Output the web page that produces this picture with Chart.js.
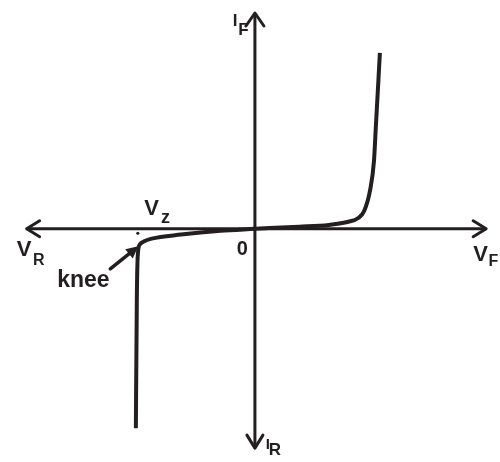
<!DOCTYPE html>
<html>
<head>
<meta charset="utf-8">
<script src="https://cdn.jsdelivr.net/npm/chart.js@4/dist/chart.umd.min.js"></script>
<style>
html,body{margin:0;padding:0;background:#ffffff;}
#wrap{width:500px;height:462px;}
</style>
</head>
<body>
<div id="wrap"><canvas id="c" width="500" height="462"></canvas></div>
<script>
// Forward-bias branch (V_F in volts, I_F in mA)
const forwardV = [0, 1.8, 3.0, 3.8, 4.2, 4.44, 4.68, 4.84, 4.92, 5.0, 5.08];
const forwardI = [0, 0.09, 0.17, 0.31, 0.48, 0.79, 1.71, 3.02, 4.63, 6.21, 7.83];
// Reverse-bias branch (breakdown at Vz)
const reverseV = [-4.84, -4.8, -4.76, -4.68, -4.52, -4.2, -3.0, -1.4, 0];
const reverseI = [-8.88, -3.1, -1.14, -0.7, -0.57, -0.44, -0.26, -0.09, 0];
// Zener voltage marker on the axis
const zenerV = [-4.76];
const zenerI = [-0.2];
// Axis extents (data units)
const axisX = [-9.28, 9.4];
const axisY = [-9.76, 9.6];
// Text labels
const labelTexts = ["I", "F", "I", "R", "V", "R", "V", "z", "0", "V", "F", "knee"];

const INK = '#231f20';
const pts = (xs, ys) => xs.map((x, i) => ({x, y: ys[i]}));

// label placement (data units) and fonts
const labelSpec = [
  {x: -0.9,  y: 9.0,  f: 'bold 17px "Liberation Sans"'},
  {x: -0.68, y: 8.6,  f: 'bold 17px "Liberation Sans"'},
  {x: 0.44,  y: -9.8, f: 'bold 15px "Liberation Sans"'},
  {x: 0.56,  y: -10.06, f: 'bold 17px "Liberation Sans"'},
  {x: -9.68, y: -1.22, f: 'bold 22px "Liberation Sans"'},
  {x: -9.02, y: -1.6,  f: 'bold 16px "Liberation Sans"'},
  {x: -4.5,  y: 0.61,  f: 'bold 22px "Liberation Sans"'},
  {x: -3.82, y: 0.26,  f: 'bold 18px "Liberation Sans"'},
  {x: -0.74, y: -1.18, f: 'bold 20px "Liberation Sans"'},
  {x: 8.88,  y: -1.44, f: 'bold 22px "Liberation Sans"'},
  {x: 9.5,   y: -1.66, f: 'bold 16px "Liberation Sans"'},
  {x: -8.04, y: -2.58, f: 'bold 23px "Liberation Sans"'}
];
// knee pointer arrow (tail -> head) in data units
const kneeArrow = {x0: -5.88, y0: -1.79, x1: -4.74, y1: -0.78};

function chevron(ctx, tx, ty, ang, len, half) {
  const c = Math.cos(ang), s = Math.sin(ang);
  ctx.beginPath();
  ctx.moveTo(tx - len * c - half * -s, ty - len * s - half * c);
  ctx.lineTo(tx, ty);
  ctx.lineTo(tx - len * c + half * -s, ty - len * s + half * c);
  ctx.stroke();
}

const decor = {
  id: 'decor',
  afterDatasetsDraw(chart) {
    const ctx = chart.ctx, xs = chart.scales.x, ys = chart.scales.y;
    const X = v => xs.getPixelForValue(v), Y = v => ys.getPixelForValue(v);
    ctx.save();
    ctx.strokeStyle = INK; ctx.fillStyle = INK;
    ctx.lineWidth = 3; ctx.lineCap = 'round'; ctx.lineJoin = 'round';
    // axis arrowheads
    chevron(ctx, X(axisX[1]), Y(0), 0, 13, 8);
    chevron(ctx, X(axisX[0]), Y(0), Math.PI, 13, 8);
    chevron(ctx, X(0), Y(axisY[1]), -Math.PI / 2, 13, 9);
    chevron(ctx, X(0), Y(axisY[0]), Math.PI / 2, 13, 8);
    // knee arrow
    const ax0 = X(kneeArrow.x0), ay0 = Y(kneeArrow.y0), ax1 = X(kneeArrow.x1), ay1 = Y(kneeArrow.y1);
    const ang = Math.atan2(ay1 - ay0, ax1 - ax0);
    ctx.lineWidth = 3.5;
    ctx.beginPath(); ctx.moveTo(ax0, ay0);
    ctx.lineTo(ax1 - 8 * Math.cos(ang), ay1 - 8 * Math.sin(ang)); ctx.stroke();
    const c = Math.cos(ang), s = Math.sin(ang);
    ctx.beginPath();
    ctx.moveTo(ax1, ay1);
    ctx.lineTo(ax1 - 12 * c + 6 * s, ay1 - 12 * s - 6 * c);
    ctx.lineTo(ax1 - 12 * c - 6 * s, ay1 - 12 * s + 6 * c);
    ctx.closePath(); ctx.fill();
    // labels
    ctx.textAlign = 'left'; ctx.textBaseline = 'alphabetic';
    labelTexts.forEach((t, i) => {
      const sp = labelSpec[i];
      ctx.font = sp.f;
      ctx.fillText(t, X(sp.x), Y(sp.y));
    });
    ctx.restore();
  }
};

new Chart(document.getElementById('c'), {
  type: 'scatter',
  data: {
    datasets: [
      {data: [{x: axisX[0], y: 0}, {x: axisX[1], y: 0}], showLine: true, borderColor: INK, borderWidth: 3, pointRadius: 0},
      {data: [{x: 0, y: axisY[0]}, {x: 0, y: axisY[1]}], showLine: true, borderColor: INK, borderWidth: 3, pointRadius: 0},
      {data: pts(forwardV, forwardI), showLine: true, borderColor: INK, borderWidth: 4, pointRadius: 0, cubicInterpolationMode: 'monotone'},
      {data: pts(reverseV, reverseI), showLine: true, borderColor: INK, borderWidth: 4, pointRadius: 0, cubicInterpolationMode: 'monotone'},
      {data: pts(zenerV, zenerI), showLine: false, pointRadius: 1.6, pointBackgroundColor: INK, pointBorderWidth: 0}
    ]
  },
  options: {
    responsive: false,
    animation: false,
    layout: {padding: 0},
    plugins: {legend: {display: false}, tooltip: {enabled: false}},
    scales: {
      x: {type: 'linear', min: -10.2, max: 9.8, display: false},
      y: {type: 'linear', min: -10.2, max: 10, display: false}
    }
  },
  plugins: [decor]
});
</script>
</body>
</html>
